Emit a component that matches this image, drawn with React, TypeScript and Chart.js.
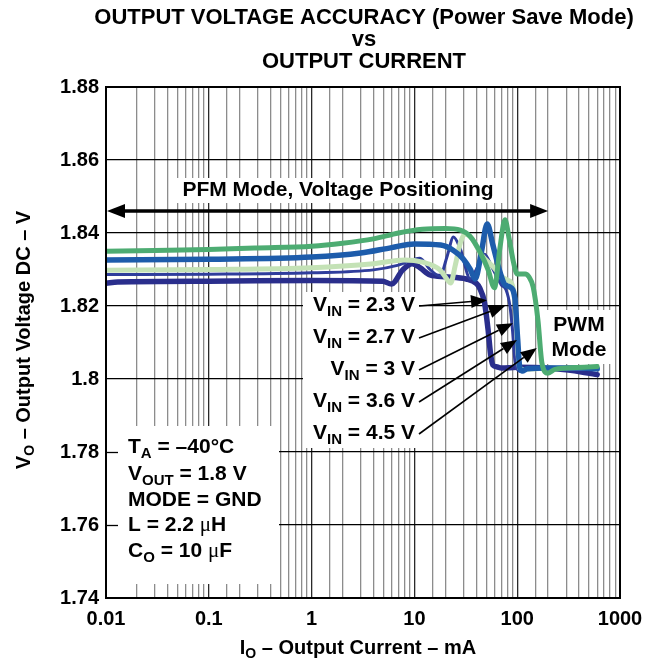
import { useEffect, useRef } from "react";
import { Chart, registerables } from "chart.js";

Chart.register(...registerables);

// ---------- data ----------
const X_MIN = 0.01;
const X_MAX = 1000;
const Y_MIN = 1.74;
const Y_MAX = 1.88;
const Y_STEP = 0.02;
const xTickLabels = ["0.01", "0.1", "1", "10", "100", "1000"];

const titleLines = ["OUTPUT VOLTAGE ACCURACY (Power Save Mode)", "vs", "OUTPUT CURRENT"];

// VIN = 4.5 V
const iVin45 = [0.01, 0.03, 0.1, 0.3, 1, 2, 4, 7, 12, 20, 28, 35, 44, 52, 60, 68, 76, 84, 92, 100, 120, 130, 143, 159, 174, 199, 230, 300, 450, 600];
const vVin45 = [1.835, 1.8352, 1.8355, 1.8359, 1.8364, 1.8372, 1.8384, 1.84, 1.841, 1.8412, 1.8408, 1.839, 1.8345, 1.83, 1.825, 1.836, 1.8436, 1.838, 1.832, 1.8288, 1.8288, 1.828, 1.8252, 1.8162, 1.8044, 1.8016, 1.8026, 1.803, 1.8032, 1.8034];

// VIN = 3.6 V
const iVin36 = [0.01, 0.1, 1, 3, 6, 10, 18, 24, 30, 35, 39, 45, 51, 58, 68, 76, 85, 95, 101, 106, 112, 125, 200, 400, 600];
const vVin36 = [1.8326, 1.8328, 1.8334, 1.8345, 1.836, 1.837, 1.8367, 1.8352, 1.8328, 1.83, 1.8274, 1.835, 1.8425, 1.8367, 1.8293, 1.8258, 1.8252, 1.822, 1.811, 1.803, 1.8022, 1.8028, 1.803, 1.803, 1.8028];

// VIN = 3 V
const iVin30 = [0.01, 0.1, 1, 4, 7, 11.3, 14.2, 17.7, 21, 24, 28, 35, 40, 48, 58, 70, 78, 85, 90, 95, 100, 110, 120, 200, 400, 600];
const vVin30 = [1.8286, 1.8287, 1.8291, 1.8299, 1.8312, 1.8331, 1.83, 1.8282, 1.834, 1.8389, 1.8356, 1.8274, 1.83, 1.8342, 1.8301, 1.8258, 1.8244, 1.82, 1.8134, 1.805, 1.8027, 1.802, 1.8025, 1.8028, 1.8028, 1.8027];

// VIN = 2.7 V
const iVin27 = [0.01, 0.1, 1, 4, 8, 12, 17.7, 21, 22.5, 25, 28, 31, 36, 45, 60, 68, 80, 88, 95, 100, 105, 115, 200, 400, 600];
const vVin27 = [1.8298, 1.83, 1.8305, 1.8316, 1.8326, 1.832, 1.8299, 1.8271, 1.8263, 1.8312, 1.8373, 1.8397, 1.8386, 1.834, 1.8304, 1.8285, 1.8271, 1.8263, 1.8216, 1.811, 1.803, 1.8026, 1.803, 1.803, 1.8029];

// VIN = 2.3 V
const iVin23 = [0.01, 0.013, 0.1, 1, 4.9, 6, 7.7, 9.5, 11.3, 14.2, 20, 32, 40, 43, 48, 52, 55, 58, 64, 70, 100, 200, 300, 450, 600];
const vVin23 = [1.8262, 1.8266, 1.8268, 1.827, 1.8268, 1.826, 1.8299, 1.8316, 1.8305, 1.8285, 1.828, 1.8274, 1.8262, 1.825, 1.821, 1.8137, 1.807, 1.8038, 1.8033, 1.803, 1.8032, 1.803, 1.8025, 1.8018, 1.8012];

const vinLabels = ["2.3", "2.7", "3", "3.6", "4.5"];
// arrow tip for each label, in data units (current mA, voltage V)
const arrowTipI = [50.8, 76, 91, 99.6, 155];
const arrowTipV = [1.8216, 1.82, 1.8153, 1.8107, 1.8085];

const FONT = '"Liberation Sans", Arial, Helvetica, sans-serif';
const SERIF = '"Liberation Serif", "Times New Roman", serif';

type Part = { t: string; sub?: boolean; serif?: boolean };

const conditionLines: Part[][] = [
  [{ t: "T" }, { t: "A", sub: true }, { t: " = \u201340\u00B0C" }],
  [{ t: "V" }, { t: "OUT", sub: true }, { t: " = 1.8 V" }],
  [{ t: "MODE = GND" }],
  [{ t: "L = 2.2 " }, { t: "\u03BC", serif: true }, { t: "H" }],
  [{ t: "C" }, { t: "O", sub: true }, { t: " = 10 " }, { t: "\u03BC", serif: true }, { t: "F" }],
];

function zip(xs: number[], ys: number[]) {
  return xs.map((x, i) => ({ x, y: ys[i] }));
}

function partFont(p: Part, size: number) {
  const s = p.sub ? Math.round(size * 0.72) : size;
  if (p.serif) return `${s}px ${SERIF}`;
  return `bold ${s}px ${FONT}`;
}

function drawRich(ctx: CanvasRenderingContext2D, parts: Part[], x: number, y: number, size: number, align: "left" | "center" | "right") {
  let w = 0;
  for (const p of parts) {
    ctx.font = partFont(p, size);
    w += ctx.measureText(p.t).width;
  }
  let cx = align === "center" ? x - w / 2 : align === "right" ? x - w : x;
  ctx.textAlign = "left";
  ctx.textBaseline = "middle";
  ctx.fillStyle = "#000";
  for (const p of parts) {
    ctx.font = partFont(p, size);
    ctx.fillText(p.t, cx, p.sub ? y + size * 0.32 : y);
    cx += ctx.measureText(p.t).width;
  }
}

function drawArrowHead(ctx: CanvasRenderingContext2D, x1: number, y1: number, x2: number, y2: number, len: number, half: number) {
  const a = Math.atan2(y2 - y1, x2 - x1);
  const bx = x2 - len * Math.cos(a);
  const by = y2 - len * Math.sin(a);
  ctx.beginPath();
  ctx.moveTo(x2, y2);
  ctx.lineTo(bx + half * Math.sin(a), by - half * Math.cos(a));
  ctx.lineTo(bx - half * Math.sin(a), by + half * Math.cos(a));
  ctx.closePath();
  ctx.fill();
  return { bx, by };
}

function drawArrow(ctx: CanvasRenderingContext2D, x1: number, y1: number, x2: number, y2: number, lw: number, len: number, half: number) {
  ctx.fillStyle = "#000";
  ctx.strokeStyle = "#000";
  const { bx, by } = drawArrowHead(ctx, x1, y1, x2, y2, len, half);
  ctx.lineWidth = lw;
  ctx.beginPath();
  ctx.moveTo(x1, y1);
  ctx.lineTo(bx, by);
  ctx.stroke();
}

const isDecade = (v: number) => Math.abs(Math.log10(v) - Math.round(Math.log10(v))) < 1e-6;

const annotations = {
  id: "annotations",
  beforeDatasetsDraw(chart: any) {
    const ctx: CanvasRenderingContext2D = chart.ctx;
    const ca = chart.chartArea;
    const ys = chart.scales.y;
    ctx.save();
    ctx.fillStyle = "#fff";
    // conditions box
    ctx.fillRect(ca.left + 1, 426, 172, 158);
    // VIN labels box
    ctx.fillRect(303, 292, 116, 156);
    // PWM box
    ctx.fillRect(545, 310, 68, 54);
    // PFM text box
    ctx.fillRect(172, 178, 332, 25);
    // tick stubs on the left axis inside conditions box
    ctx.strokeStyle = "#000";
    ctx.lineWidth = 1.3;
    for (const v of [1.76, 1.78]) {
      const py = Math.round(ys.getPixelForValue(v)) + 0.5;
      ctx.beginPath();
      ctx.moveTo(ca.left, py);
      ctx.lineTo(ca.left + 12, py);
      ctx.stroke();
    }
    ctx.restore();
  },
  afterDraw(chart: any) {
    const ctx: CanvasRenderingContext2D = chart.ctx;
    const ca = chart.chartArea;
    const xs = chart.scales.x;
    const ys = chart.scales.y;
    ctx.save();
    // frame
    ctx.strokeStyle = "#000";
    ctx.lineWidth = 2;
    ctx.strokeRect(ca.left, ca.top, ca.right - ca.left, ca.bottom - ca.top);

    // title
    const cx = (ca.left + ca.right) / 2 + 1;
    ctx.fillStyle = "#000";
    ctx.textAlign = "center";
    ctx.textBaseline = "middle";
    ctx.font = `bold 22px ${FONT}`;
    ctx.fillText(titleLines[0], cx, 18);
    ctx.fillText(titleLines[1], cx, 40);
    ctx.fillText(titleLines[2], cx, 62);

    // axis titles
    drawRich(ctx, [{ t: "I" }, { t: "O", sub: true }, { t: " \u2013 Output Current \u2013 mA" }], 358, 648, 20, "center");
    ctx.save();
    ctx.translate(24, 340);
    ctx.rotate(-Math.PI / 2);
    drawRich(ctx, [{ t: "V" }, { t: "O", sub: true }, { t: " \u2013 Output Voltage DC \u2013 V" }], 0, 0, 20, "center");
    ctx.restore();

    // PFM double arrow + text
    ctx.fillStyle = "#000";
    ctx.textAlign = "center";
    ctx.font = `bold 21px ${FONT}`;
    ctx.fillText("PFM Mode, Voltage Positioning", 338, 190);
    const ay = 211;
    const xr = xs.getPixelForValue(200);
    drawArrowHead(ctx, xr, ay, ca.left + 1, ay, 18, 7);
    drawArrowHead(ctx, ca.left, ay, xr, ay, 18, 7);
    ctx.lineWidth = 3.5;
    ctx.beginPath();
    ctx.moveTo(ca.left + 15, ay);
    ctx.lineTo(xr - 15, ay);
    ctx.stroke();

    // PWM Mode
    ctx.font = `bold 21px ${FONT}`;
    ctx.textAlign = "center";
    ctx.fillText("PWM", 579, 325);
    ctx.fillText("Mode", 579, 350);

    // VIN labels + arrows
    const labelY = [305, 337, 369, 401, 433];
    vinLabels.forEach((lab, i) => {
      drawRich(ctx, [{ t: "V" }, { t: "IN", sub: true }, { t: ` = ${lab} V` }], 415, labelY[i], 21, "right");
      const tx = xs.getPixelForValue(arrowTipI[i]);
      const ty = ys.getPixelForValue(arrowTipV[i]);
      drawArrow(ctx, 419, labelY[i] + 1, tx, ty, 1.6, 16, 6.5);
    });

    // conditions text
    const condY = [447, 474, 500, 525, 551];
    conditionLines.forEach((line, i) => drawRich(ctx, line, 128, condY[i], 21, "left"));
    ctx.restore();
  },
};

export default function App() {
  const ref = useRef<HTMLCanvasElement | null>(null);

  useEffect(() => {
    document.body.style.margin = "0";
    const canvas = ref.current;
    if (!canvas) return;
    const lineDs = (label: string, xs: number[], ys: number[], color: string, width: number) => ({
      label,
      data: zip(xs, ys),
      borderColor: color,
      borderWidth: width,
      pointRadius: 0,
      fill: false,
      cubicInterpolationMode: "monotone" as const,
      borderCapStyle: "round" as const,
      borderJoinStyle: "round" as const,
    });
    const chart = new Chart(canvas, {
      type: "line",
      data: {
        datasets: [
          lineDs("VIN = 4.5 V", iVin45, vVin45, "#4dac72", 5),
          lineDs("VIN = 3.6 V", iVin36, vVin36, "#1d5cab", 5.5),
          lineDs("VIN = 2.7 V", iVin27, vVin27, "#c4e2b6", 5),
          lineDs("VIN = 3 V", iVin30, vVin30, "#2f3d9c", 3),
          lineDs("VIN = 2.3 V", iVin23, vVin23, "#2a2e8c", 5.5),
        ],
      },
      options: {
        animation: false,
        responsive: false,
        devicePixelRatio: 1,
        layout: { padding: { top: 87, right: 32, bottom: 0, left: 0 } },
        plugins: {
          legend: { display: false },
          tooltip: { enabled: false },
          title: { display: false },
        },
        scales: {
          x: {
            type: "logarithmic",
            min: X_MIN,
            max: X_MAX,
            border: { display: false },
            grid: {
              drawTicks: false,
              lineWidth: 1.3,
              color: (c: any) => (c.tick && isDecade(c.tick.value) ? "#2a2a2a" : "#8c8c8c"),
            },
            ticks: {
              autoSkip: false,
              maxRotation: 0,
              minRotation: 0,
              padding: 9,
              color: "#000",
              font: { family: FONT, size: 20, weight: "bold" },
              callback: (v: any) => {
                const n = Number(v);
                if (!isDecade(n)) return "";
                return xTickLabels[Math.round(Math.log10(n)) + 2] ?? "";
              },
            },
            afterFit: (s: any) => {
              s.height = 68;
            },
          },
          y: {
            type: "linear",
            min: Y_MIN,
            max: Y_MAX,
            border: { display: false },
            grid: { drawTicks: false, lineWidth: 1.3, color: "#000" },
            ticks: {
              stepSize: Y_STEP,
              padding: 7,
              color: "#000",
              font: { family: FONT, size: 20, weight: "bold" },
              callback: (v: any) => String(parseFloat(Number(v).toFixed(2))),
            },
            afterFit: (s: any) => {
              s.width = 106;
            },
          },
        },
      },
      plugins: [annotations],
    });
    return () => chart.destroy();
  }, []);

  return <canvas ref={ref} width={652} height={666} style={{ display: "block" }} />;
}
